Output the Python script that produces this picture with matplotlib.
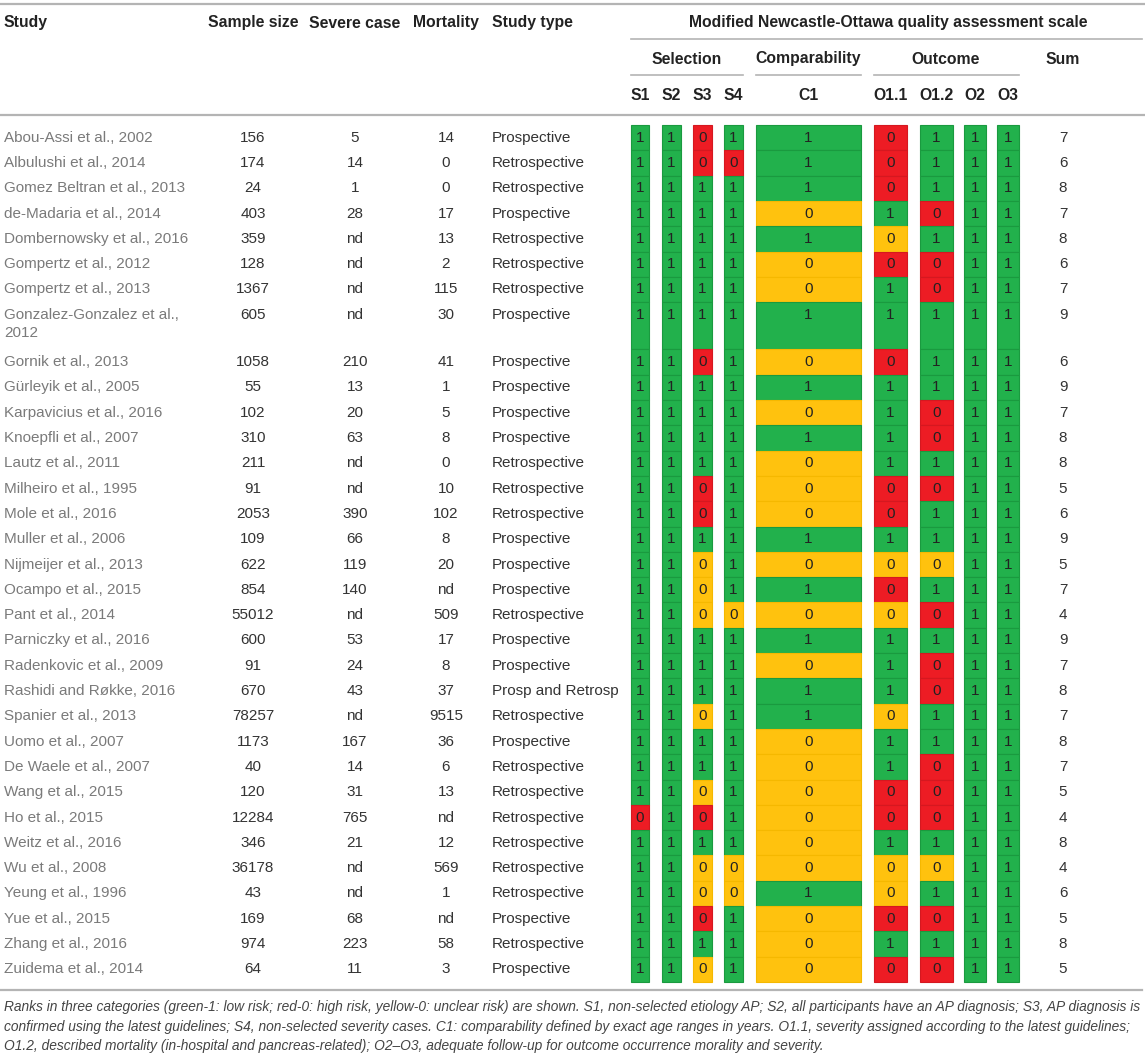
import matplotlib
matplotlib.use("Agg")
import matplotlib.pyplot as plt

plt.rcParams['font.family'] = ['Liberation Sans', 'DejaVu Sans']

studies = ["Abou-Assi et al., 2002", "Albulushi et al., 2014", "Gomez Beltran et al., 2013",
           "de-Madaria et al., 2014", "Dombernowsky et al., 2016", "Gompertz et al., 2012",
           "Gompertz et al., 2013", "Gonzalez-Gonzalez et al.,\n2012", "Gornik et al., 2013",
           "Gürleyik et al., 2005", "Karpavicius et al., 2016", "Knoepfli et al., 2007",
           "Lautz et al., 2011", "Milheiro et al., 1995", "Mole et al., 2016",
           "Muller et al., 2006", "Nijmeijer et al., 2013", "Ocampo et al., 2015",
           "Pant et al., 2014", "Parniczky et al., 2016", "Radenkovic et al., 2009",
           "Rashidi and Røkke, 2016", "Spanier et al., 2013", "Uomo et al., 2007",
           "De Waele et al., 2007", "Wang et al., 2015", "Ho et al., 2015",
           "Weitz et al., 2016", "Wu et al., 2008", "Yeung et al., 1996",
           "Yue et al., 2015", "Zhang et al., 2016", "Zuidema et al., 2014"]
sample_size = ["156", "174", "24", "403", "359", "128", "1367", "605", "1058", "55", "102",
               "310", "211", "91", "2053", "109", "622", "854", "55012", "600", "91", "670",
               "78257", "1173", "40", "120", "12284", "346", "36178", "43", "169", "974", "64"]
severe_case = ["5", "14", "1", "28", "nd", "nd", "nd", "nd", "210", "13", "20", "63", "nd",
               "nd", "390", "66", "119", "140", "nd", "53", "24", "43", "nd", "167", "14",
               "31", "765", "21", "nd", "nd", "68", "223", "11"]
mortality = ["14", "0", "0", "17", "13", "2", "115", "30", "41", "1", "5", "8", "0", "10",
             "102", "8", "20", "nd", "509", "17", "8", "37", "9515", "36", "6", "13", "nd",
             "12", "569", "1", "nd", "58", "3"]
study_type = ["Prospective", "Retrospective", "Retrospective", "Prospective", "Retrospective",
              "Retrospective", "Retrospective", "Prospective", "Prospective", "Prospective",
              "Prospective", "Prospective", "Retrospective", "Retrospective", "Retrospective",
              "Prospective", "Prospective", "Prospective", "Retrospective", "Prospective",
              "Prospective", "Prosp and Retrosp", "Retrospective", "Prospective",
              "Retrospective", "Retrospective", "Retrospective", "Retrospective",
              "Retrospective", "Retrospective", "Prospective", "Retrospective", "Prospective"]
# g = 1 (low risk), r = 0 (high risk), y = 0 (unclear risk)
item_names = ["S1", "S2", "S3", "S4", "C1", "O1.1", "O1.2", "O2", "O3"]
ratings = ["ggrggrggg", "ggrrgrggg", "gggggrggg", "ggggygrgg", "gggggyggg", "ggggyrrgg",
           "ggggygrgg", "ggggggggg", "ggrgyrggg", "ggggggggg", "ggggygrgg", "ggggggrgg",
           "ggggygggg", "ggrgyrrgg", "ggrgyrggg", "ggggggggg", "ggygyyygg", "ggyggrggg",
           "ggyyyyrgg", "ggggggggg", "ggggygrgg", "ggggggrgg", "ggyggyggg",
           "ggggygggg", "ggggygrgg", "ggygyrrgg", "rgrgyrrgg", "ggggygggg", "ggyyyyygg",
           "ggyygyggg", "ggrgyrrgg", "ggggygggg", "ggygyrrgg"]
total = ["7", "6", "8", "7", "8", "6", "7", "9", "6", "9", "7", "8", "8", "5", "6", "9", "5",
         "7", "4", "9", "7", "8", "7", "8", "7", "5", "4", "8", "4", "6", "5", "8", "5"]

caption = ("Ranks in three categories (green-1: low risk; red-0: high risk, yellow-0: unclear risk) are shown. "
           "S1, non-selected etiology AP; S2, all participants have an AP diagnosis; S3, AP diagnosis is\n"
           "confirmed using the latest guidelines; S4, non-selected severity cases. C1: comparability defined by "
           "exact age ranges in years. O1.1, severity assigned according to the latest guidelines;\n"
           "O1.2, described mortality (in-hospital and pancreas-related); O2\u2013O3, adequate follow-up for "
           "outcome occurrence morality and severity.")

fill = {"g": "#22b14c", "r": "#ed1c24", "y": "#ffc20e"}
edge = {"g": "#1a9a3f", "r": "#d51820", "y": "#f5b800"}

# column geometry (pixels)
col_left = [631, 662, 693, 724, 756, 874, 920, 964, 997]
col_right = [649, 681, 712, 743, 861, 907, 953, 986, 1019]
x_sample, x_severe, x_mort, x_type, x_sum = 253, 355, 446, 492, 1063

fig = plt.figure(figsize=(11.45, 10.57), dpi=100)
ax = fig.add_axes([0, 0, 1, 1])
ax.set_xlim(0, 1145)
ax.set_ylim(1057, 0)
ax.axis("off")

fs = 11
name_col = "#7a7a7a"
val_col = "#333333"
line_col = "#b4b4b4"

# header
ax.plot([0, 1145], [4, 4], color=line_col, lw=1.6)
ax.plot([0, 1145], [115, 115], color=line_col, lw=1.6)
ax.plot([631, 1142], [39, 39], color=line_col, lw=1.2)
for a, b in [(631, 743), (756, 861), (874, 1019)]:
    ax.plot([a, b], [75, 75], color=line_col, lw=1.2)
hk = dict(fontsize=11.3, fontweight="bold", color="#222222", va="center")
ax.text(4, 23, "Study", ha="left", **hk)
ax.text(x_sample, 23, "Sample size", ha="center", **hk)
ax.text(x_severe, 23, "Severe case", ha="center", **hk)
ax.text(x_mort, 23, "Mortality", ha="center", **hk)
ax.text(x_type, 23, "Study type", ha="left", **hk)
ax.text(888, 23, "Modified Newcastle-Ottawa quality assessment scale", ha="center", **hk)
ax.text(687, 59, "Selection", ha="center", **hk)
ax.text(808, 59, "Comparability", ha="center", **hk)
ax.text(946, 59, "Outcome", ha="center", **hk)
ax.text(x_sum, 59, "Sum", ha="center", **hk)
for name, a, b in zip(item_names, col_left, col_right):
    ax.text((a + b) / 2, 96, name, ha="center", **hk)

# rows
heights = [1.87 if "\n" in s else 1.0 for s in studies]
pitch = (982 - 125) / sum(heights)
top = 125.0
for i, s in enumerate(studies):
    h = heights[i] * pitch
    ty = top + pitch / 2
    for k, part in enumerate(s.split("\n")):
        ax.text(4, ty + 18 * k, part, ha="left", va="center", color=name_col, fontsize=fs)
    ax.text(x_sample, ty, sample_size[i], ha="center", va="center", color=val_col, fontsize=fs)
    ax.text(x_severe, ty, severe_case[i], ha="center", va="center", color=val_col, fontsize=fs)
    ax.text(x_mort, ty, mortality[i], ha="center", va="center", color=val_col, fontsize=fs)
    ax.text(x_type, ty, study_type[i], ha="left", va="center", color=val_col, fontsize=fs)
    for j, c in enumerate(ratings[i]):
        a, b = col_left[j], col_right[j]
        ax.bar((a + b) / 2, h, bottom=top, width=b - a, color=fill[c], edgecolor=edge[c],
               linewidth=0.8)
        ax.text((a + b) / 2, ty, "1" if c == "g" else "0", ha="center", va="center",
                color="#222222", fontsize=fs)
    ax.text(x_sum, ty, total[i], ha="center", va="center", color=val_col, fontsize=fs)
    top += h

ax.plot([0, 1142], [990, 990], color=line_col, lw=1.6)
ax.text(4, 1000, caption, ha="left", va="top", fontsize=9.9, style="italic",
        color="#444444", linespacing=1.5)

fig.savefig("out.png", dpi=100)
plt.close(fig)
